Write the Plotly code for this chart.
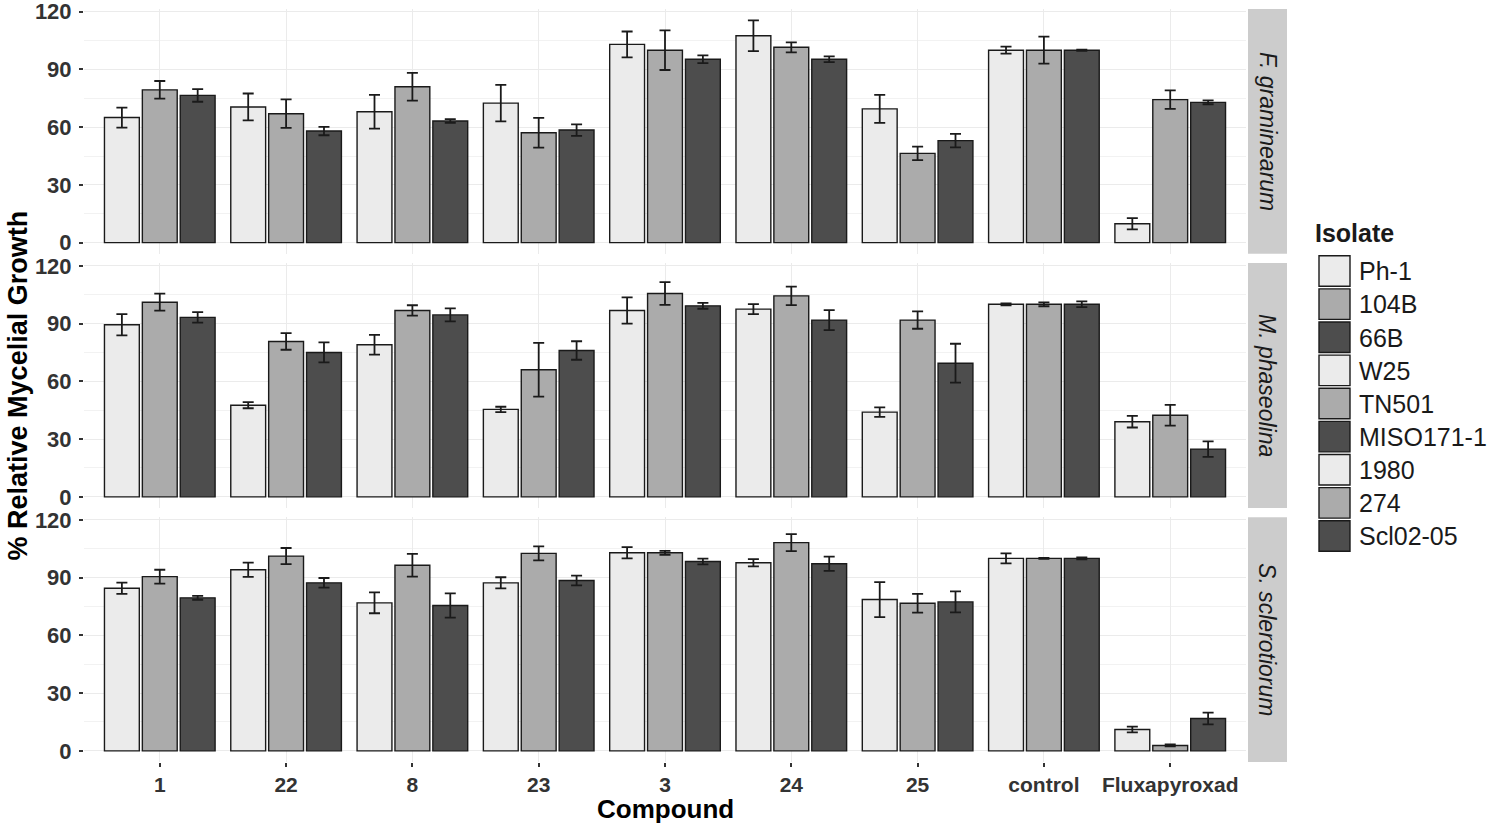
import plotly.graph_objects as go
from plotly.subplots import make_subplots

compounds = ["1", "22", "8", "23", "3", "24", "25", "control", "Fluxapyroxad"]
species = ["F. graminearum", "M. phaseolina", "S. sclerotiorum"]
isolates = ["Ph-1", "104B", "66B", "W25", "TN501", "MISO171-1", "1980", "274", "Scl02-05"]
shades = ["#EBEBEB", "#ABABAB", "#4D4D4D"]

# F. graminearum
ph1_mean = [65.0, 70.5, 68.0, 72.5, 103.0, 107.5, 69.5, 100.0, 9.8]
ph1_err = [5.2, 7.0, 8.8, 9.5, 6.7, 8.0, 7.3, 1.8, 2.9]
b104_mean = [79.4, 67.0, 81.0, 57.1, 100.0, 101.5, 46.4, 100.0, 74.3]
b104_err = [4.6, 7.4, 7.2, 7.7, 10.3, 2.6, 3.5, 7.0, 4.8]
b66_mean = [76.5, 58.0, 63.2, 58.5, 95.3, 95.3, 53.0, 100.0, 72.9]
b66_err = [3.3, 2.2, 1.0, 3.0, 2.0, 1.5, 3.5, 0.3, 1.0]
# M. phaseolina
w25_mean = [89.4, 47.6, 79.0, 45.4, 96.8, 97.5, 44.0, 100.0, 39.0]
w25_err = [5.5, 1.6, 5.1, 1.4, 6.8, 2.6, 2.5, 0.5, 3.0]
tn501_mean = [101.1, 80.7, 96.8, 66.0, 105.6, 104.4, 91.8, 100.0, 42.4]
tn501_err = [4.4, 4.3, 2.7, 14.0, 5.9, 4.8, 4.5, 1.0, 5.4]
miso_mean = [93.2, 75.0, 94.5, 76.0, 99.2, 91.8, 69.4, 100.0, 24.8]
miso_err = [2.7, 5.2, 3.4, 4.8, 1.5, 5.2, 10.1, 1.5, 4.0]
# S. sclerotiorum
i1980_mean = [84.5, 94.1, 76.9, 87.3, 102.9, 97.7, 78.6, 100.0, 11.1]
i1980_err = [2.9, 3.7, 5.4, 2.9, 2.9, 1.9, 9.1, 2.6, 1.5]
i274_mean = [90.5, 101.2, 96.4, 102.6, 102.9, 108.2, 76.7, 100.0, 2.8]
i274_err = [3.6, 4.2, 5.9, 3.6, 1.0, 4.4, 4.9, 0.3, 0.5]
scl_mean = [79.5, 87.3, 75.5, 88.5, 98.4, 97.2, 77.4, 100.0, 16.8]
scl_err = [1.0, 2.5, 6.3, 2.5, 1.5, 3.7, 5.5, 0.5, 3.1]

means = [ph1_mean, b104_mean, b66_mean, w25_mean, tn501_mean, miso_mean,
         i1980_mean, i274_mean, scl_mean]
errs = [ph1_err, b104_err, b66_err, w25_err, tn501_err, miso_err,
        i1980_err, i274_err, scl_err]

y_ticks = [0, 30, 60, 90, 120]

FONT = "Liberation Sans, Arial, Helvetica, sans-serif"
W, H = 1500, 828
# plot area in page pixels: x 84..1246, y 9.3..762
L = 84
R = W - 1246
T = 9.3
B = H - 762
PW, PH = W - L - R, H - T - B


def px_x(x):
    return (x - L) / PW


def px_y(y):
    return (H - B - y) / PH


fig = make_subplots(rows=3, cols=1, shared_xaxes=True, vertical_spacing=0.012)

for i, name in enumerate(isolates):
    row = i // 3 + 1
    fig.add_trace(go.Bar(
        x=compounds, y=means[i], name=name,
        marker=dict(color=shades[i % 3], line=dict(color="#1A1A1A", width=1.4)),
        error_y=dict(type="data", array=errs[i], visible=True,
                     color="#1A1A1A", thickness=1.8, width=5.5),
        showlegend=False,
    ), row=row, col=1)

panel_px = [(9.3, 254.0), (263.3, 508.1), (517.3, 762.0)]
for r, (top, bot) in enumerate(panel_px, start=1):
    yname = "yaxis" if r == 1 else f"yaxis{r}"
    xname = "xaxis" if r == 1 else f"xaxis{r}"
    fig.layout[yname].domain = [max(0, px_y(bot)), min(1, px_y(top))]
    fig.layout[yname].update(
        range=[-5.8, 121.4], tickvals=y_ticks, ticks="outside", ticklen=4,
        tickwidth=1.5, tickcolor="#333333", showgrid=True, gridcolor="#EBEBEB",
        gridwidth=1.3, zeroline=False, showline=False, ticklabelstandoff=3,
        ticklabeloverflow="allow",
        minor=dict(dtick=15, tick0=0, showgrid=True, gridcolor="#F2F2F2", gridwidth=1),
        tickfont=dict(family=FONT, size=22, color="#333333", weight="bold"),
    )
    fig.layout[xname].update(
        type="category", categoryorder="array", categoryarray=compounds,
        range=[-0.6, 8.6], showgrid=True, gridcolor="#EBEBEB", gridwidth=1,
        zeroline=False, showline=False,
        ticks="outside" if r == 3 else "", ticklen=4, tickwidth=1.5, tickcolor="#333333",
        showticklabels=(r == 3),
        tickfont=dict(family=FONT, size=21, color="#333333", weight="bold"),
    )

shapes = []
annotations = []
for r, (top, bot) in enumerate(panel_px):
    shapes.append(dict(type="rect", xref="paper", yref="paper",
                       x0=px_x(1248), x1=px_x(1287), y0=px_y(bot), y1=px_y(top),
                       fillcolor="#CCCCCC", line=dict(width=0), layer="below"))
    annotations.append(dict(text=species[r], xref="paper", yref="paper",
                            x=px_x(1267.5), y=px_y((top + bot) / 2), showarrow=False,
                            textangle=90, xanchor="center", yanchor="middle",
                            font=dict(family=FONT, size=23, color="#1A1A1A", style="italic")))

annotations.append(dict(text="Isolate", xref="paper", yref="paper",
                        x=px_x(1313), y=px_y(233), showarrow=False,
                        xanchor="left", yanchor="middle",
                        font=dict(family=FONT, size=25, color="#1A1A1A", weight="bold")))
for i, name in enumerate(isolates):
    top = 256 + i * 33.1
    shapes.append(dict(type="rect", xref="paper", yref="paper",
                       x0=px_x(1319), x1=px_x(1350), y0=px_y(top + 30.5), y1=px_y(top),
                       fillcolor=shades[i % 3], line=dict(color="#1A1A1A", width=1.4)))
    annotations.append(dict(text=name, xref="paper", yref="paper",
                            x=px_x(1357), y=px_y(top + 15.5), showarrow=False,
                            xanchor="left", yanchor="middle",
                            font=dict(family=FONT, size=25, color="#1A1A1A")))

annotations.append(dict(text="Compound", xref="paper", yref="paper",
                        x=px_x(665), y=px_y(809), showarrow=False,
                        xanchor="center", yanchor="middle",
                        font=dict(family=FONT, size=26, color="#000000", weight="bold")))
annotations.append(dict(text="% Relative Mycelial Growth", xref="paper", yref="paper",
                        x=px_x(18), y=px_y(385.6), showarrow=False, textangle=-90,
                        xanchor="center", yanchor="middle",
                        font=dict(family=FONT, size=27, color="#000000", weight="bold")))

fig.update_layout(
    width=W, height=H,
    margin=dict(l=L, r=R, t=T, b=B, autoexpand=False),
    plot_bgcolor="white", paper_bgcolor="white",
    barmode="group", bargap=0.1, bargroupgap=0.08,
    shapes=shapes, annotations=annotations,
    showlegend=False,
    font=dict(family=FONT),
)

fig.write_html("out.html",
               config={"displayModeBar": False},
               post_script="document.body.style.margin='0px';document.body.style.overflow='hidden';")
